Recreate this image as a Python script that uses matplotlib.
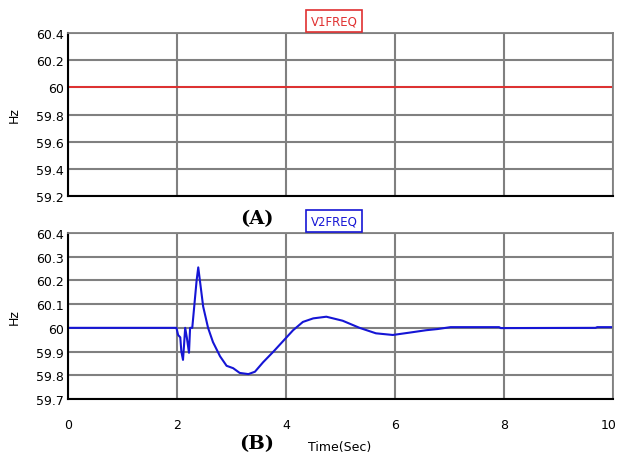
import matplotlib
matplotlib.use("Agg")
import matplotlib.pyplot as plt
import matplotlib.transforms as mtransforms

# V1 frequency stays at nominal 60 Hz
v1_time = [0.0, 10.0]
v1_freq = [60.0, 60.0]

# V2 frequency
v2_time = [0.0, 1.99, 2.02, 2.06, 2.08, 2.11, 2.13, 2.15, 2.18, 2.22, 2.24, 2.28,
           2.31, 2.36, 2.39, 2.42, 2.48, 2.57, 2.66, 2.79, 2.91, 3.03, 3.15, 3.31,
           3.43, 3.58, 3.77, 3.95, 4.13, 4.31, 4.50, 4.74, 5.04, 5.35, 5.65, 5.96,
           6.27, 6.57, 6.78, 7.02, 7.91, 7.94, 9.68, 9.71, 10.0]
v2_freq = [60.0, 60.0, 59.97, 59.96, 59.90, 59.865, 59.93, 60.0, 59.96, 59.895, 60.0, 60.0,
           60.075, 60.20, 60.255, 60.20, 60.09, 60.0, 59.94, 59.88, 59.84, 59.83, 59.81, 59.805,
           59.815, 59.855, 59.90, 59.945, 59.99, 60.025, 60.04, 60.047, 60.03, 60.0, 59.977, 59.97,
           59.98, 59.99, 59.995, 60.003, 60.003, 59.999, 60.0, 60.003, 60.003]

x_ticks = [0, 2, 4, 6, 8, 10]
top_yticks = [59.2, 59.4, 59.6, 59.8, 60.0, 60.2, 60.4]
top_ylabels = ["59.2", "59.4", "59.6", "59.8", "60", "60.2", "60.4"]
bottom_yticks = [59.7, 59.8, 59.9, 60.0, 60.1, 60.2, 60.3, 60.4]
bottom_ylabels = ["59.7", "59.8", "59.9", "60", "60.1", "60.2", "60.3", "60.4"]

plt.rcParams["font.family"] = ["DejaVu Sans"]

fig = plt.figure(figsize=(6.18, 4.6), dpi=100)
W, H = 618, 460


def make_axes(left, top, right, bottom):
  return fig.add_axes([left / W, 1 - bottom / H, (right - left) / W, (bottom - top) / H])


def style_axes(ax, yticks, ylabels, ylim):
  ax.set_xlim(0, 10)
  ax.set_ylim(*ylim)
  ax.set_xticks(x_ticks)
  ax.set_yticks(yticks)
  ax.set_yticklabels(ylabels)
  ax.grid(True, color="#808080", linewidth=1.5)
  ax.set_axisbelow(True)
  ax.tick_params(length=0, labelsize=9, pad=3)
  for side in ("top", "right"):
    ax.spines[side].set_color("#808080")
    ax.spines[side].set_linewidth(1.3)
  for side in ("left", "bottom"):
    ax.spines[side].set_color("black")
    ax.spines[side].set_linewidth(1.5)
  ax.set_ylabel("Hz", fontsize=9, labelpad=11)


# Top panel
ax1 = make_axes(68, 34, 613, 197)
ax1.plot(v1_time, v1_freq, color="#e03030", linewidth=1.4)
style_axes(ax1, top_yticks, top_ylabels, (59.2, 60.4))
ax1.set_xticklabels([])
fig.text(334 / W, 1 - 22 / H, "V1FREQ", fontsize=8.5, color="#e03030", ha="center", va="center",
         bbox=dict(boxstyle="square,pad=0.4", facecolor="white", edgecolor="#e03030", linewidth=1.2))

# Bottom panel
ax2 = make_axes(68, 234, 613, 400)
ax2.plot(v2_time, v2_freq, color="#1515d5", linewidth=1.5)
style_axes(ax2, bottom_yticks, bottom_ylabels, (59.7, 60.4))
ax2.tick_params(axis="x", pad=14)

# Keep the last x label inside the figure, as in the reference
last_label = ax2.get_xticklabels()[-1]
last_label.set_transform(last_label.get_transform()
                         + mtransforms.ScaledTranslation(-4 / 100, 0, fig.dpi_scale_trans))

fig.text(334 / W, 1 - 222 / H, "V2FREQ", fontsize=8.5, color="#1515d5", ha="center", va="center",
         bbox=dict(boxstyle="square,pad=0.4", facecolor="white", edgecolor="#1515d5", linewidth=1.2))
fig.text(340 / W, 1 - 448 / H, "Time(Sec)", fontsize=9, ha="center", va="center")

# Panel captions
fig.text(257 / W, 1 - 219 / H, "(A)", fontsize=14, fontweight="bold", ha="center", va="center",
         family=["DejaVu Serif"])
fig.text(257 / W, 1 - 444 / H, "(B)", fontsize=14, fontweight="bold", ha="center", va="center",
         family=["DejaVu Serif"])

fig.savefig("out.png", dpi=100)
